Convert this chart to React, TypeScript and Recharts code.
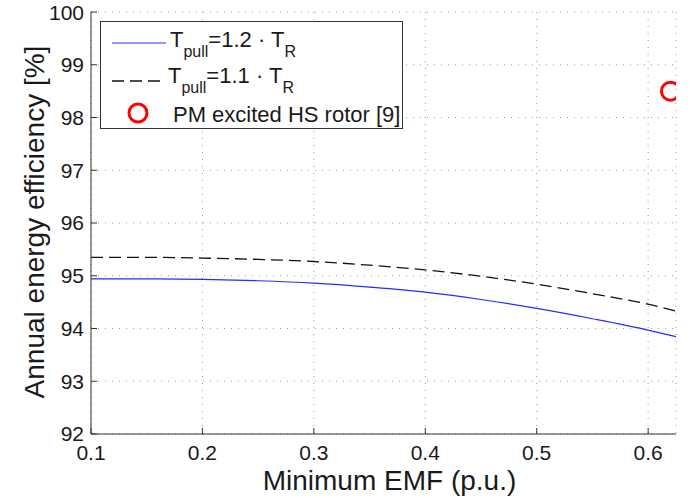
import React from 'react';
import { ComposedChart, Line, Scatter, XAxis, YAxis, CartesianGrid } from 'recharts';

const emf = [0.1, 0.15, 0.2, 0.25, 0.3, 0.35, 0.4, 0.45, 0.5, 0.55, 0.6, 0.625];
const effPull12 = [94.94, 94.94, 94.93, 94.905, 94.86, 94.785, 94.69, 94.55, 94.38, 94.185, 93.97, 93.845];
const effPull11 = [95.35, 95.35, 95.335, 95.31, 95.27, 95.2, 95.11, 94.99, 94.84, 94.66, 94.46, 94.33];
const pmEmf = [0.62];
const pmEff = [98.5];
const xTicks = [0.1, 0.2, 0.3, 0.4, 0.5, 0.6];
const yTicks = [92, 93, 94, 95, 96, 97, 98, 99, 100];

const data = emf.map((x, i) => ({ x, a: effPull12[i], b: effPull11[i] }));
const pmData = pmEmf.map((x, i) => ({ x, pm: pmEff[i] }));

const FONT = '"Liberation Sans", Arial, Helvetica, sans-serif';
const AX = '#333';
const TXT = '#1a1a1a';

const RingShape = (props: any) => (
  <circle cx={props.cx} cy={props.cy} r={9} fill="none" stroke="#ff0000" strokeWidth={3} />
);

const YLabel = (props: any) => {
  const vb = props.viewBox || {};
  const x = vb.x + 44;
  const y = vb.y + vb.height / 2 - 1;
  return (
    <text x={x} y={y} transform={`rotate(-90, ${x}, ${y})`} textAnchor="middle" fontSize={28} fill={TXT} fontFamily={FONT}>
      Annual energy efficiency [%]
    </text>
  );
};

const XLabel = (props: any) => {
  const vb = props.viewBox || {};
  return (
    <text x={vb.x + vb.width / 2 + 6} y={vb.y + 56} textAnchor="middle" fontSize={28} fill={TXT} fontFamily={FONT}>
      Minimum EMF (p.u.)
    </text>
  );
};

export default function App() {
  return (
    <div style={{ position: 'absolute', left: 0, top: 0, width: 694, height: 498, background: '#fff', fontFamily: FONT }}>
      <ComposedChart width={694} height={498} data={data} margin={{ top: 12, right: 18, bottom: 0, left: 0 }}>
        <CartesianGrid stroke="#999" strokeDasharray="1 6" />
        <XAxis
          xAxisId={0}
          type="number"
          dataKey="x"
          domain={[0.1, 0.625]}
          ticks={xTicks}
          allowDataOverflow
          height={64}
          tickSize={-6}
          tickMargin={17}
          stroke={AX}
          tick={{ fontSize: 21, fill: TXT, fontFamily: FONT }}
          label={<XLabel />}
        />
        <XAxis
          xAxisId="top"
          orientation="top"
          type="number"
          dataKey="x"
          domain={[0.1, 0.625]}
          ticks={xTicks}
          allowDataOverflow
          height={0}
          tickSize={-6}
          tick={false}
          stroke={AX}
        />
        <YAxis
          yAxisId={0}
          type="number"
          domain={[92, 100]}
          ticks={yTicks}
          allowDataOverflow
          width={91}
          tickSize={-6}
          tickMargin={13}
          stroke={AX}
          tick={{ fontSize: 21, fill: TXT, fontFamily: FONT }}
          label={<YLabel />}
        />
        <YAxis
          yAxisId="right"
          orientation="right"
          type="number"
          domain={[92, 100]}
          ticks={yTicks}
          allowDataOverflow
          width={0}
          tickSize={-6}
          tick={false}
          stroke={AX}
        />
        <Line xAxisId={0} yAxisId={0} type="monotone" dataKey="a" stroke="#2a2aff" strokeWidth={1.2} dot={false} isAnimationActive={false} />
        <Line xAxisId={0} yAxisId={0} type="monotone" dataKey="b" stroke="#111" strokeWidth={1.3} strokeDasharray="12 6" dot={false} isAnimationActive={false} />
        <Scatter xAxisId={0} yAxisId={0} data={pmData} dataKey="pm" shape={<RingShape />} isAnimationActive={false} />
      </ComposedChart>
      <svg width={694} height={498} style={{ position: 'absolute', left: 0, top: 0, pointerEvents: 'none' }} fontFamily={FONT}>
        <rect x={100.5} y={21.5} width={302} height={107} fill="#fff" stroke={AX} strokeWidth={1} />
        <line x1={112} x2={166} y1={43} y2={43} stroke="#2a2aff" strokeWidth={1.2} />
        <text x={170} y={47} fontSize={22} fill={TXT}>
          T<tspan dy={10} fontSize={16}>pull</tspan><tspan dy={-10}>=1.2 · T</tspan><tspan dy={10} fontSize={16}>R</tspan>
        </text>
        <line x1={112} x2={166} y1={81} y2={81} stroke="#111" strokeWidth={1.3} strokeDasharray="12 6" />
        <text x={168} y={83} fontSize={22} fill={TXT}>
          T<tspan dy={10} fontSize={16}>pull</tspan><tspan dy={-10}>=1.1 · T</tspan><tspan dy={10} fontSize={16}>R</tspan>
        </text>
        <circle cx={138} cy={113} r={9} fill="none" stroke="#ff0000" strokeWidth={3} />
        <text x={173} y={122} fontSize={22} fill={TXT}>PM excited HS rotor [9]</text>
      </svg>
    </div>
  );
}
